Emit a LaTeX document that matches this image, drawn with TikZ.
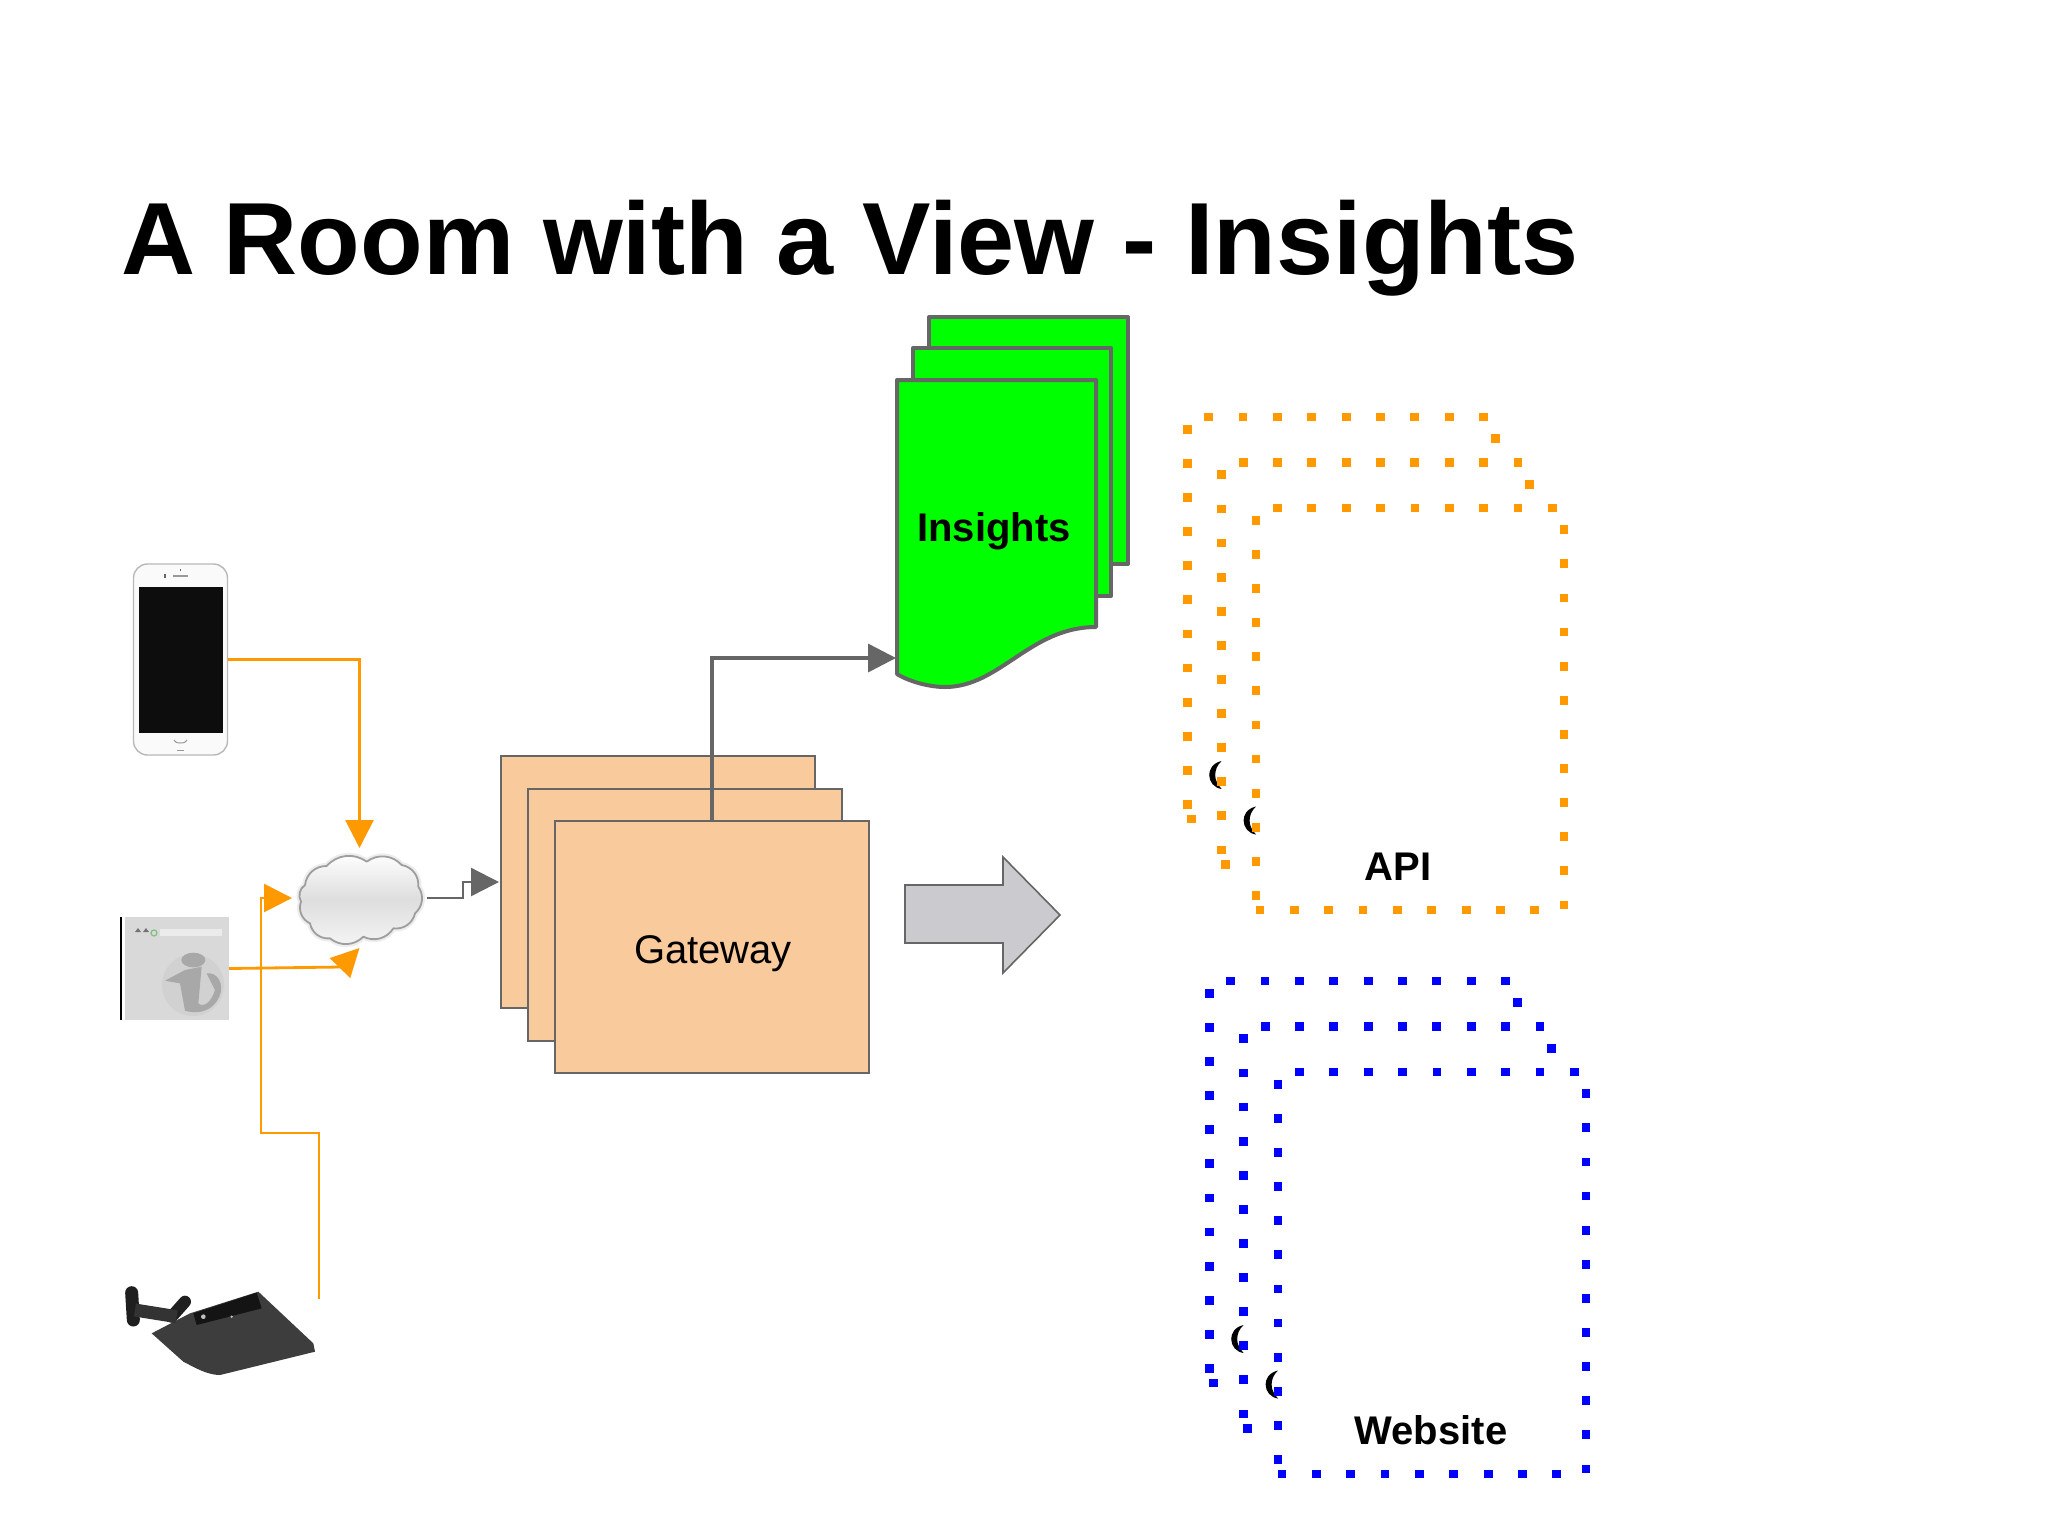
\documentclass[tikz,border=0pt]{standalone}
\usepackage{fontspec}
\setmainfont{Liberation Sans}
\usetikzlibrary{arrows.meta,calc}
\definecolor{linegray}{HTML}{666666}
\definecolor{orangeline}{HTML}{FF9900}
\definecolor{bluedot}{HTML}{0000FF}
\definecolor{gatefill}{HTML}{F9CB9C}
\definecolor{arrowfill}{HTML}{CBCACE}
\newcommand{\sheetdot}[2]{\fill ({#1-4.4},{#2-4.4}) rectangle +(8.8,8.8);}
\newcommand{\rearsheet}[3]{%
  \begin{scope}[shift={(#1,#2)}]
    \fill[black] (34.4,344) .. controls (25,346) and (22,353) .. (22,358)
      .. controls (22,365) and (27,371) .. (34.4,372)
      .. controls (30,367) and (28,363) .. (28,358)
      .. controls (28,353) and (30,348) .. (34.4,344) -- cycle;
    \begin{scope}[fill=#3]
      \foreach \k in {0,...,11} {\sheetdot{0}{12.3+34.1*\k}}
      \foreach \k in {0,...,8} {\sheetdot{21.5+34.35*\k}{0}}
      \sheetdot{308}{21.7}
      \sheetdot{4}{402}
    \end{scope}
  \end{scope}}
\newcommand{\frontsheet}[3]{%
  \begin{scope}[shift={(#1,#2)},fill=#3]
    \foreach \k in {0,...,11} {\sheetdot{0}{12.3+34.1*\k}}
    \foreach \k in {0,...,8} {\sheetdot{21.5+34.35*\k}{0}}
    \foreach \k in {0,...,10} {\sheetdot{308}{21.7+34.1*\k}}
    \sheetdot{308}{397}
    \foreach \k in {0,...,8} {\sheetdot{4+34.35*\k}{402}}
  \end{scope}}
\newcommand{\sheetstack}[3]{%
  \rearsheet{#1-68.8}{#2-91}{#3}
  \rearsheet{#1-34.4}{#2-45.5}{#3}
  \frontsheet{#1}{#2}{#3}}
\tikzset{
  gatebox/.style={draw=linegray,fill=gatefill,line width=1pt,minimum width=157pt,minimum height=126pt,inner sep=0pt,outer sep=0pt},
  inspage/.style={draw=linegray,fill=green,line width=2pt,line join=round},
  anchorbox/.style={inner sep=0pt,outer sep=0pt},
  orangearrow/.style={draw=orangeline,line width=1.4pt,-{Triangle[length=14pt,width=14pt,fill=orangeline]}},
  grayarrow/.style={draw=linegray,-{Triangle[length=14pt,width=14pt,fill=linegray]}},
  boldlabel/.style={font=\fontsize{20}{24}\selectfont\bfseries,text=black,inner sep=0pt},
}
\begin{document}
\begin{tikzpicture}[x=0.5pt,y=-0.5pt]
\useasboundingbox (0,0) rectangle (2048,1536);
\fill[white] (0,0) rectangle (2048,1536);
% title
\node[anchor=base west,inner sep=0pt,font=\fontsize{51.3}{60}\selectfont\bfseries] (title) at (121,274) {A Room with a View - Insights};
% phone
\node[anchorbox,draw=black!28,fill=black!2,rounded corners=7pt,line width=0.7pt,minimum width=47pt,minimum height=95.5pt] (phone) at (180.5,659.5) {};
\fill[black!95] (139,587) rectangle (223,733);
\fill[black!40] (173,575) rectangle (188,577);
\fill[black!60] (164,574) rectangle (166,578);
\fill[black!60] (180,569) rectangle (181,571);
\draw[black!40,line width=0.5pt] (174,740) arc (180:360:6.5 and -3);
\draw[black!40,line width=0.5pt] (177,750) -- (184,750);
% browser
\node[anchorbox,fill=black!15,minimum width=52pt,minimum height=51.5pt] (browser) at (177,968.5) {};
\draw[black,line width=1pt] (120.5,917) -- (120.5,1020);
\fill[black!8] (160,929) rectangle (222,936);
\fill[black!55] (135,932) -- (138,928) -- (141,932) -- cycle;
\fill[black!55] (143,932) -- (146,928) -- (149,932) -- cycle;
\draw[green!50!black!50,line width=0.6pt] (154,933) circle (3);
\fill[black!18] (193,985) circle (31);
\begin{scope}[shift={(100,540)},x=0.16667pt,y=-0.16667pt]
  \fill[black!34] (280,1260) ellipse (36 and 22);
  \fill[black!34] (195,1322) -- (255,1290) -- (305,1280) -- (295,1390) .. controls (310,1405) and (335,1385) .. (345,1350) -- (320,1300) .. controls (350,1295) and (375,1330) .. (358,1370) .. controls (340,1410) and (300,1425) .. (255,1412) -- (240,1330) -- cycle;
\end{scope}
% router
\node[anchorbox,minimum width=74pt,minimum height=46pt] (router) at (197,1335) {};
\begin{scope}[shift={(100,1100)},x=0.16667pt,y=-0.16667pt]
  \fill[black!76] (155,700) -- (270,640) -- (475,575) -- (640,730) -- (645,755) -- (360,825) .. controls (320,825) and (280,800) .. (250,785) -- cycle;
  \draw[black!88,line width=6.5pt,line cap=round] (95,578) -- (100,660);
  \draw[black!88,line width=6pt,line cap=round] (255,605) -- (215,650);
  \draw[black!80,line width=6.5pt] (105,630) -- (230,650);
  \fill[black!92] (280,640) -- (470,578) -- (485,625) -- (290,675) -- cycle;
  \fill[black!25] (310,650) circle (7);
  \fill[black!25] (395,650) circle (4);
\end{scope}
% cloud
\node[anchorbox,minimum width=67.5pt,minimum height=50pt] (cloud) at (359.5,898) {};
\begin{scope}[shift={(100,540)},x=0.16667pt,y=-0.16667pt]
  \path[draw=black!38,line width=0.9pt,line join=round,top color=white,bottom color=black!4,middle color=black!13,shading angle=0,
    preaction={draw=black!7,line width=3pt}]
    (615,1035) to[bend left=42] (680,978) to[bend left=42] (800,965) to[bend left=42] (905,975) to[bend left=42] (955,1040) to[bend left=42] (945,1120) to[bend left=42] (880,1165) to[bend left=42] (790,1190) to[bend left=42] (690,1195) to[bend left=42] (630,1150) to[bend left=42] (603,1085) to[bend left=42] (615,1035) -- cycle;
\end{scope}
% gateway
\node[gatebox] (gwback) at (658,882) {};
\node[gatebox] (gwmid) at (685,914.5) {};
\node[gatebox] (gwfront) at (712,947) {};
\node[font=\fontsize{20}{24}\selectfont,inner sep=0pt] (gwlabel) at (713,954) {Gateway};
% insights stack
\node[inspage,anchorbox,minimum width=99.5pt,minimum height=123.5pt] (insback) at (1028.5,440.5) {};
\node[inspage,anchorbox,minimum width=99pt,minimum height=124pt] (insmid) at (1012,472) {};
\draw[inspage] (897,380) -- (1096,380) -- (1096,627) .. controls (1030,627) and (1000,687) .. (945,687) .. controls (930,687) and (910,682) .. (897,674) -- cycle;
\node[boldlabel] (insights) at (994,531) {Insights};
\coordinate (insport) at (896,658);
% connectors
\draw[orangearrow] (phone.east) -| (cloud.north);
\coordinate (kink) at (341,967);
\draw[orangearrow] (browser.east) -- (kink) -- (cloud.south);
\coordinate (routerport) at (319,1299);
\coordinate (upper) at (261,1133);
\draw[orangearrow] (routerport) |- (upper) |- (cloud.west);
\coordinate (bend) at (463,898);
\draw[grayarrow,line width=1.2pt,shorten >=1pt] (cloud.east) -- (bend) |- (gwback.west);
\draw[grayarrow,line width=1.75pt] (gwfront.north) |- (insport);
% block arrow
\draw[draw=linegray,fill=arrowfill,line width=0.8pt,line join=miter] (905,885) -- (1003,885) -- (1003,857) -- (1060,915) -- (1003,973) -- (1003,943) -- (905,943) -- cycle;
% dotted sheets
\sheetstack{1256}{508}{orangeline}
\sheetstack{1278}{1072}{bluedot}
\node[boldlabel] (api) at (1398,867) {API};
\node[boldlabel] (website) at (1431,1430) {Website};
\end{tikzpicture}
\end{document}
